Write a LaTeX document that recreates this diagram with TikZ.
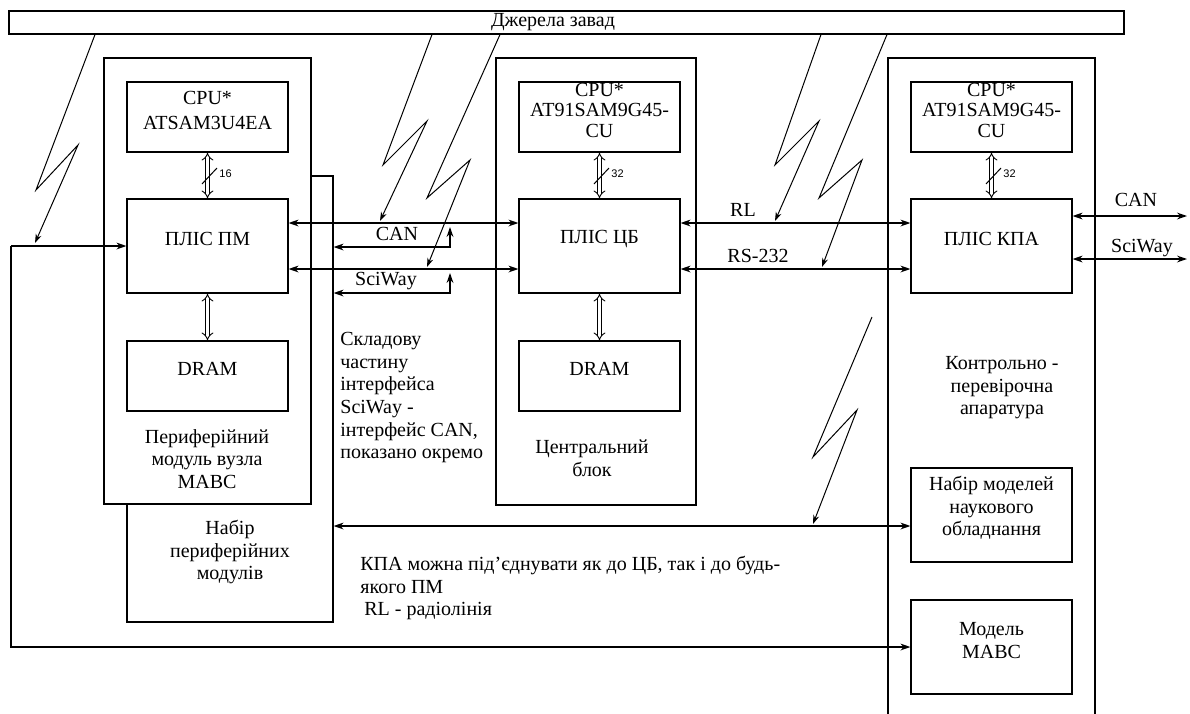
\documentclass[tikz,border=0pt]{standalone}
\usepackage{fontspec}
\setmainfont{Liberation Serif}
\newfontfamily\buswidthfont{Liberation Sans}
\usetikzlibrary{arrows.meta,fit}

\tikzset{
  blk/.style={draw, line width=0.55pt, fill=white, inner sep=0pt,
    font=\fontsize{10}{11.3}\selectfont, align=center},
  txt/.style={inner sep=0pt, font=\fontsize{10}{11.3}\selectfont, align=center},
  conn/.style={line width=0.8pt, -{Stealth[length=5pt,width=3.4pt]}},
  conn2/.style={line width=0.8pt,
    {Stealth[length=5pt,width=3.4pt]}-{Stealth[length=5pt,width=3.4pt]}},
  busw/.style={double, double distance=1.6pt, line width=0.45pt, {Implies}-{Implies}},
  zap/.style={line width=0.5pt, -{Stealth[length=4.5pt,width=3pt]}},
  wlbl/.style={inner sep=0pt, anchor=west, font=\buswidthfont\fontsize{5.5}{6}\selectfont},
}

\begin{document}
\begin{tikzpicture}[x=0.5pt,y=-0.5pt]
  \useasboundingbox (0,0) rectangle (1190,713);
  \clip (0,0) rectangle (1190,713);

  % noise sources
  \node[blk, fit={(9,11) (1124,34)}] (noise) {};
  \node[txt] at (553,22) {Джерела завад};

  % peripheral modules
  \node[blk, fit={(127,176) (333,622)}] (pmset) {};
  \node[txt] at (230,552) {Набір\\ периферійних\\ модулів};
  \node[blk, fit={(104,58) (311,504)}] (pm) {};
  \node[blk, fit={(127,82) (288,152)}] (cpupm) {CPU*\\[1pt] ATSAM3U4EA};
  \node[blk, fit={(127,199) (288,293)}] (plpm) {ПЛІС ПМ};
  \node[blk, fit={(127,341) (288,411)}] (drampm) {DRAM};
  \node[txt] at (207,459) {Периферійний\\ модуль вузла\\ МАВС};

  % central block
  \node[blk, fit={(496,58) (696,505)}] (cb) {};
  \node[blk, fit={(519,82) (680,152)}] (cpucb) {CPU*\\[-1pt] AT91SAM9G45-\\[-1pt] CU};
  \node[blk, fit={(519,199) (680,293)}] (plcb) {ПЛІС ЦБ};
  \node[blk, fit={(519,341) (680,411)}] (dramcb) {DRAM};
  \node[txt] at (592,458) {Центральний\\ блок};

  % test equipment
  \node[blk, fit={(888,58) (1095,740)}] (kpa) {};
  \node[blk, fit={(911,82) (1072,152)}] (cpukpa) {CPU*\\[-1pt] AT91SAM9G45-\\[-1pt] CU};
  \node[blk, fit={(911,199) (1072,293)}] (plkpa) {ПЛІС КПА};
  \node[txt] at (1002,388) {Контрольно -\\ перевірочна\\ апаратура};
  \node[blk, fit={(911,468) (1072,562)}] (nmod) {Набір моделей\\ наукового\\ обладнання};
  \node[blk, fit={(911,600) (1072,694)}] (mmavs) {Модель\\ МАВС};

  % internal buses
  \draw[busw] (cpupm) -- (plpm);
  \draw[busw] (plpm) -- (drampm);
  \draw[busw] (cpucb) -- (plcb);
  \draw[busw] (plcb) -- (dramcb);
  \draw[busw] (cpukpa) -- (plkpa);
  \draw[line width=0.5pt] (202,184) -- (217,168);
  \node[wlbl] at (219,174) {16};
  \draw[line width=0.5pt] (594,184) -- (609,168);
  \node[wlbl] at (611,174) {32};
  \draw[line width=0.5pt] (986,184) -- (1001,168);
  \node[wlbl] at (1003,174) {32};

  % links PM - CB
  \draw[conn2] (plpm.east |- 0,223) -- (plcb.west |- 0,223);
  \node[txt] at (397,234) {CAN};
  \draw[conn2] (pmset.east |- 0,247) -| (450,227);
  \draw[conn2] (plpm.east |- 0,269) -- (plcb.west |- 0,269);
  \node[txt] at (386,281) {SciWay};
  \draw[conn2] (pmset.east |- 0,293) -| (450,273);

  % links CB - KPA
  \draw[conn2] (plcb.east |- 0,223) -- (plkpa.west |- 0,223);
  \node[txt] at (743,210) {RL};
  \draw[conn2] (plcb.east |- 0,269) -- (plkpa.west |- 0,269);
  \node[txt] at (758,256) {RS-232};

  % external KPA links
  \coordinate (canout) at (1187,216);
  \coordinate (swout) at (1187,259);
  \draw[conn2] (plkpa.east |- canout) -- (canout);
  \node[txt] at (1136,200) {CAN};
  \draw[conn2] (plkpa.east |- swout) -- (swout);
  \node[txt] at (1142,248) {SciWay};

  % feed to PM and model
  \coordinate (feed) at (11,246);
  \draw[conn] (feed) -- (plpm.west |- feed);
  \draw[conn] (feed) |- (mmavs.west);
  \draw[conn2] (pmset.east |- 0,526) -- (nmod.west |- 0,526);

  % interference
  \draw[zap] (noise.south -| 95,0) -- (36,190) -- (78,145) -- (35,243);
  \draw[zap] (noise.south -| 432,0) -- (383,165) -- (427,121) -- (380,221);
  \draw[zap] (noise.south -| 500,0) -- (427,198) -- (470,160) -- (427,267);
  \draw[zap] (noise.south -| 821,0) -- (775,165) -- (819,121) -- (775,221);
  \draw[zap] (noise.south -| 887,0) -- (819,198) -- (862,160) -- (822,267);
  \draw[zap] (872,317) -- (813,457) -- (857,410) -- (813,524);

  % notes
  \node[txt, anchor=north west, align=left] at (340,332)
    {Складову\\ частину\\ інтерфейса\\ SciWay -\\ інтерфейс CAN,\\ показано окремо};
  \node[txt, anchor=north west, align=left] at (360,556)
    {КПА можна під’єднувати як до ЦБ, так і до будь-\\ якого ПМ\\ \hspace*{2pt}RL - радіолінія};
\end{tikzpicture}
\end{document}
